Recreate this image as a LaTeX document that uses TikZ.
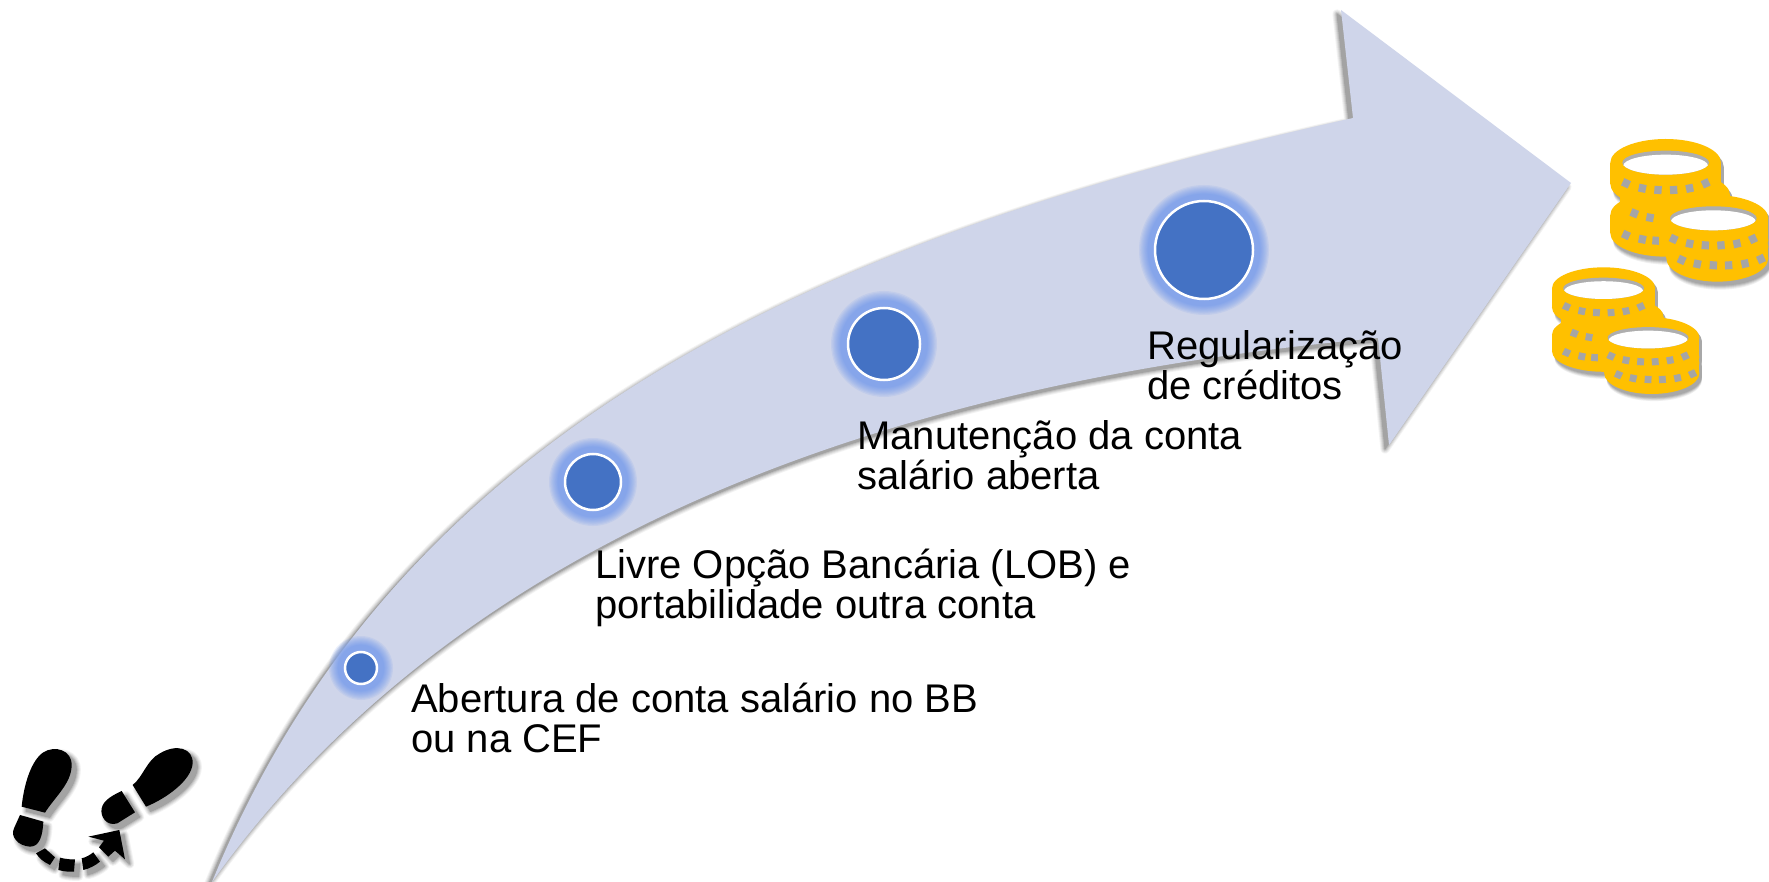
\documentclass[tikz,border=0pt]{standalone}
\usepackage{fontspec}
\setmainfont{Liberation Sans}
\definecolor{arrowc}{HTML}{CFD5EA}
\definecolor{dotc}{HTML}{4472C4}
\definecolor{glowc}{HTML}{84A5EE}
\definecolor{coinc}{HTML}{FFC000}
\definecolor{holec}{HTML}{A5A5A5}
\newcommand{\arrowshape}{(212,882) .. controls (400,420) and (840,232) .. (1353,118) -- (1341,10) -- (1571,183) -- (1389,445) -- (1378,338) .. controls (860,385) and (450,550) .. (212,882) -- cycle}
\newcommand{\softshadow}[3]{%
  \begin{scope}[shift={(#1,#2)},line join=round,line cap=round]
    \foreach \lw/\sh in {9/5,7/11,5/18,3/26,1/36}{\path[fill=black!\sh,draw=black!\sh,line width=\lw pt] #3;}
  \end{scope}}
\newcommand{\glowdot}[5]{%
  \foreach \k in {0,...,14}{\fill[glowc,opacity=.17] (#1,#2) circle[radius={#3+(#4-#3)*(.45+.55*\k*\k/196)}];}
  \node[circle,fill=dotc,draw=white,line width=#5,minimum size=2*#3,inner sep=0pt] at (#1,#2) {};}
\newcommand{\hole}[3]{\fill[holec,shift={(#1,#2)},rotate=#3] (-11,-12) rectangle (11,12);}
\newcommand{\drum}[5]{%
  \fill (#1-#3,#2) rectangle (#1+#3,#2+#5);
  \fill (#1,#2) ellipse[x radius=#3,y radius=#4];
  \fill (#1,#2+#5) ellipse[x radius=#3,y radius=#4];}
\newcommand{\well}[4]{%
  \fill[holec!90!white] (#1,#2) ellipse[x radius=#3,y radius=#4];
  \begin{scope}
    \clip (#1,#2) ellipse[x radius=#3,y radius=#4];
    \fill[white] (#1,#2+9) ellipse[x radius=#3-3,y radius=#4-3];
  \end{scope}}
\newcommand{\coinsil}{\drum{497}{128}{166}{71}{64}\drum{525}{225}{165}{70}{20}\drum{497}{285}{166}{70}{55}\drum{640}{295}{165}{70}{65}\drum{652}{380}{153}{70}{35}}
\newcommand{\coinstack}{%
  \begin{scope}[shift={(8,10)}]
    \foreach \sh/\dy in {6/14,12/11,20/8,28/5,34/2}{\begin{scope}[black!\sh,shift={(0,\dy)}]\coinsil\end{scope}}
  \end{scope}
  \begin{scope}[coinc]\coinsil\end{scope}
  \well{497}{128}{130}{36}
  \well{640}{295}{130}{36}
  \hole{378}{190}{-25}\hole{427}{205}{-12}\hole{474}{210}{-4}\hole{521}{210}{4}\hole{569}{205}{12}\hole{617}{190}{25}
  \hole{403}{280}{-22}\hole{450}{293}{-10}
  \hole{378}{345}{-25}\hole{427}{358}{-12}\hole{468}{362}{-4}
  \fill[coinc] (478,330) rectangle (500,380);
  \hole{521}{357}{-25}\hole{569}{371}{-12}\hole{616}{376}{-4}\hole{663}{376}{4}\hole{711}{371}{12}\hole{759}{357}{25}
  \hole{545}{420}{-25}\hole{592}{432}{-12}\hole{640}{436}{-4}\hole{686}{436}{4}\hole{735}{431}{12}\hole{783}{417}{25}}
\newcommand{\footprints}{%
  (65,260) .. controls (72,190) and (95,120) .. (130,97) .. controls (165,75) and (215,90) .. (215,135) .. controls (215,190) and (165,230) .. (135,278) -- cycle
  (60,285) -- (130,305) .. controls (128,345) and (120,380) .. (90,380) .. controls (55,378) and (30,350) .. (42,325) -- cycle
  (398,195) .. controls (430,170) and (440,120) .. (480,100) .. controls (530,70) and (580,85) .. (578,130) .. controls (575,180) and (500,235) .. (438,260) -- cycle
  (365,213) -- (405,277) -- (352,310) .. controls (320,320) and (300,290) .. (305,265) .. controls (310,240) and (340,225) .. (365,213) -- cycle
  (108,400) -- (135,385) -- (165,412) -- (150,435) .. controls (130,425) and (118,415) .. (108,400) -- cycle
  (180,413) .. controls (195,417) and (210,419) .. (225,418) -- (222,455) .. controls (205,456) and (190,454) .. (175,450) -- cycle
  (245,415) .. controls (258,412) and (270,405) .. (280,397) -- (300,425) .. controls (285,437) and (268,446) .. (250,450) -- cycle
  (265,350) -- (358,330) -- (375,418) -- (345,392) -- (325,410) -- (297,382) -- (312,362) -- cycle}
\tikzset{lbl/.style={anchor=north west,inner sep=0pt,align=left,font=\fontsize{40}{40.5}\selectfont,text=black}}
\newcommand{\ts}{\rule{0pt}{32pt}}
\begin{document}
\begin{tikzpicture}[x=1pt,y=-1pt]
\useasboundingbox (0,0) rectangle (1769,882);
\fill[white] (0,0) rectangle (1769,882);
\softshadow{-4}{4}{\arrowshape}
\fill[arrowc] \arrowshape;
\glowdot{361}{668}{16}{32}{2.5pt}
\glowdot{593}{482}{28}{44}{2.5pt}
\glowdot{884}{344}{36}{53}{2.5pt}
\glowdot{1204}{250}{49}{65}{2.5pt}
\node[lbl] (t1) at (411,680) {\ts Abertura de conta salário no BB\\ou na CEF};
\node[lbl] (t2) at (595,546) {\ts Livre Opção Bancária (LOB) e\\portabilidade outra conta};
\node[lbl] (t3) at (857,417) {\ts Manutenção da conta\\salário aberta};
\node[lbl] (t4) at (1147,327) {\ts Regularização\\de créditos};
\begin{scope}[shift={(0,720)},scale=.3333]
  \softshadow{14}{14}{\footprints}
  \fill[black] \footprints;
\end{scope}
\begin{scope}[shift={(1500,120)},scale=.3333]
  \coinstack
  \begin{scope}[shift={(155-330*.933,442-57*.888)},xscale=.933,yscale=.888]
    \coinstack
  \end{scope}
\end{scope}
\end{tikzpicture}
\end{document}
